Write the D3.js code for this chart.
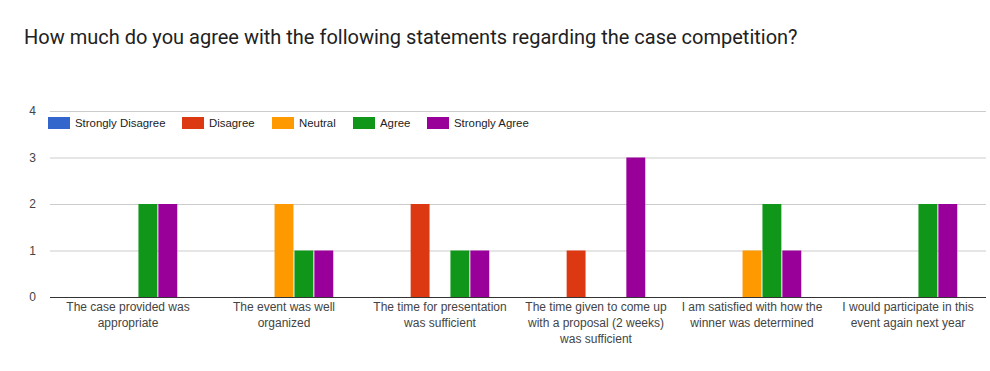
<!DOCTYPE html>
<html>
<head>
<meta charset="utf-8">
<script src="https://cdn.jsdelivr.net/npm/d3@7"></script>
<style>
  body { margin: 0; background: #fff; }
  svg text { font-family: Arial, "Liberation Sans", sans-serif; }
</style>
</head>
<body>
<div id="chart"></div>
<script>
// Chart data
const categories = [
    'The case provided was appropriate',
    'The event was well organized',
    'The time for presentation was sufficient',
    'The time given to come up with a proposal (2 weeks) was sufficient',
    'I am satisfied with how the winner was determined',
    'I would participate in this event again next year'
];
const seriesNames = ['Strongly Disagree', 'Disagree', 'Neutral', 'Agree', 'Strongly Agree'];
const seriesColors = ['#3366cc', '#dc3912', '#ff9900', '#109618', '#990099'];
const stronglyDisagree = [0, 0, 0, 0, 0, 0];
const disagree = [0, 0, 2, 1, 0, 0];
const neutral = [0, 2, 0, 0, 1, 0];
const agree = [2, 1, 1, 0, 2, 2];
const stronglyAgree = [2, 1, 1, 3, 1, 2];
const yTicks = [0, 1, 2, 3, 4];

const seriesValues = [stronglyDisagree, disagree, neutral, agree, stronglyAgree];

const W = 990, H = 371;
const plot = { left: 50, right: 986, top: 111, bottom: 297 };

const svg = d3.select('#chart')
    .append('svg')
    .attr('width', W)
    .attr('height', H);

// Title
svg.append('text')
    .attr('x', 24)
    .attr('y', 44)
    .style('font-family', 'Roboto, sans-serif')
    .style('font-size', '20px')
    .style('fill', '#212121')
    .text('How much do you agree with the following statements regarding the case competition?');

// Scales
const x0 = d3.scaleBand()
    .domain(categories)
    .range([plot.left, plot.right])
    .padding(0);

const groupWidth = 98.5;
const x1 = d3.scaleBand()
    .domain(seriesNames)
    .range([0, groupWidth])
    .paddingInner(0.05);

const y = d3.scaleLinear()
    .domain([0, 4])
    .range([plot.bottom, plot.top]);

// Gridlines and y tick labels
const yAxis = d3.axisLeft(y)
    .tickValues(yTicks)
    .tickFormat(d3.format('d'))
    .tickSize(-(plot.right - plot.left))
    .tickPadding(14);

const yg = svg.append('g')
    .attr('transform', `translate(${plot.left},0)`)
    .call(yAxis);
yg.select('.domain').remove();
yg.selectAll('line').attr('stroke', '#cccccc');
yg.selectAll('text')
    .style('font-size', '12px')
    .style('fill', '#444');

// Bars
categories.forEach((cat, ci) => {
    const gx = x0(cat) + (x0.bandwidth() - groupWidth) / 2;
    seriesNames.forEach((name, si) => {
        const v = seriesValues[si][ci];
        if (!v) return;
        svg.append('rect')
            .attr('x', gx + x1(name))
            .attr('width', x1.bandwidth())
            .attr('y', y(v))
            .attr('height', y(0) - y(v))
            .attr('fill', seriesColors[si]);
    });
});

// Baseline
svg.append('line')
    .attr('x1', plot.left)
    .attr('x2', plot.right)
    .attr('y1', y(0) + 0.5)
    .attr('y2', y(0) + 0.5)
    .attr('stroke', '#333')
    .attr('stroke-width', 1);

// Category labels, wrapped
const maxLabelWidth = 146;
categories.forEach(cat => {
    const t = svg.append('text')
        .attr('text-anchor', 'middle')
        .style('font-size', '12px')
        .style('fill', '#444');
    const cx = x0(cat) + x0.bandwidth() / 2;
    const words = cat.split(' ');
    let line = [];
    let lineNo = 0;
    let tspan = t.append('tspan').attr('x', cx).attr('y', 311);
    words.forEach(w => {
        line.push(w);
        tspan.text(line.join(' '));
        if (tspan.node().getComputedTextLength() > maxLabelWidth && line.length > 1) {
            line.pop();
            tspan.text(line.join(' '));
            line = [w];
            lineNo++;
            tspan = t.append('tspan').attr('x', cx).attr('y', 311 + lineNo * 16).text(w);
        }
    });
});

// Legend
const legendX = [48, 182, 272, 353, 427];
const legend = svg.append('g').attr('class', 'legend');
seriesNames.forEach((name, i) => {
    const item = legend.append('g')
        .attr('transform', `translate(${legendX[i]},117)`);
    item.append('rect')
        .attr('width', 22)
        .attr('height', 12)
        .attr('fill', seriesColors[i]);
    item.append('text')
        .attr('x', 27)
        .attr('y', 10)
        .style('font-size', '11.4px')
        .style('fill', '#222')
        .text(name);
});
</script>
</body>
</html>
